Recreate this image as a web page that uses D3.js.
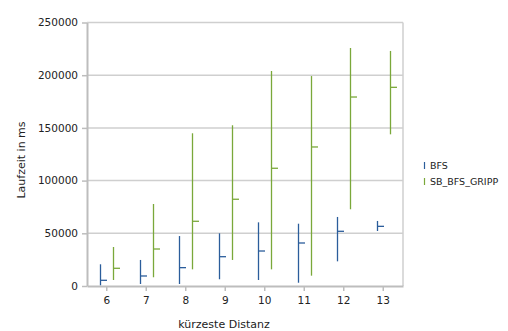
<!DOCTYPE html>
<html>
<head>
<meta charset="utf-8">
<script src="https://cdn.jsdelivr.net/npm/d3@7"></script>
<style>
  body { margin: 0; background: #fff; }
  text { font-family: "DejaVu Sans", sans-serif; fill: #222; }
</style>
</head>
<body>
<div id="chart"></div>
<script>
// Daten
const distanzen = [6, 7, 8, 9, 10, 11, 12, 13];
const bfsHoch   = [20600, 24700, 47400, 50000, 60400, 59100, 65500, 61700];
const bfsTief   = [700, 1900, 1900, 6400, 5700, 3100, 23400, 52200];
const bfsWert   = [5400, 9500, 17400, 27800, 33200, 40800, 51900, 56600];
const grippHoch = [37000, 77800, 144900, 152500, 204000, 199200, 225800, 223000];
const grippTief = [5700, 8300, 15800, 24700, 15800, 9800, 72800, 143900];
const grippWert = [16800, 35100, 61400, 82300, 111700, 131900, 179300, 188500];
const yTicks = [0, 50000, 100000, 150000, 200000, 250000];
const serien = ["BFS", "SB_BFS_GRIPP"];

const width = 508, height = 331;
const m = { left: 87, right: 403, top: 22.5, bottom: 286 };
const farben = { "BFS": "#2b5d9b", "SB_BFS_GRIPP": "#7aa83a" };

const svg = d3.select("#chart").append("svg")
    .attr("width", width)
    .attr("height", height);

const x = d3.scaleBand().domain(distanzen).range([m.left, m.right]).padding(0);
const y = d3.scaleLinear().domain([0, 250000]).range([m.bottom, m.top]);

// Gitterlinien (inkl. oberer Rahmen)
svg.append("g").selectAll("line")
    .data(yTicks.slice(1))
    .enter().append("line")
    .attr("x1", m.left).attr("x2", m.right)
    .attr("y1", d => y(d)).attr("y2", d => y(d))
    .style("stroke", "#cfcfcf")
    .style("stroke-width", 1.5);

// Rahmen rechts
svg.append("line")
    .attr("x1", m.right).attr("x2", m.right)
    .attr("y1", m.top).attr("y2", m.bottom)
    .style("stroke", "#cfcfcf").style("stroke-width", 1.5);

// y-Achse
const yAxis = svg.append("g")
    .attr("transform", `translate(${m.left},0)`)
    .call(d3.axisLeft(y).tickValues(yTicks).tickSize(5).tickSizeOuter(0).tickPadding(4).tickFormat(d3.format("d")));
yAxis.select(".domain").style("stroke", "#bdbdbd").style("stroke-width", 2);
yAxis.selectAll(".tick line").style("stroke", "#bdbdbd").style("stroke-width", 1.5);
yAxis.selectAll("text").style("font-size", "10.5px").style("font-family", "DejaVu Sans").style("fill", "#222");

// x-Achse
const xAxis = svg.append("g")
    .attr("transform", `translate(0,${m.bottom})`)
    .call(d3.axisBottom(x).tickSize(5).tickSizeOuter(0).tickPadding(6));
xAxis.select(".domain").style("stroke", "#bdbdbd").style("stroke-width", 2);
xAxis.selectAll(".tick line").style("stroke", "#bdbdbd").style("stroke-width", 1.5);
xAxis.selectAll("text").style("font-size", "10.5px").style("font-family", "DejaVu Sans").style("fill", "#222");

// Datenreihen
const daten = [
    distanzen.map((d, i) => ({ serie: "BFS", d, hoch: bfsHoch[i], tief: bfsTief[i], wert: bfsWert[i] })),
    distanzen.map((d, i) => ({ serie: "SB_BFS_GRIPP", d, hoch: grippHoch[i], tief: grippTief[i], wert: grippWert[i] }))
];
const versatz = d3.scaleBand().domain(serien).range([-13.4, 13.4]).padding(0);
const px = p => Math.round(x(p.d) + x.bandwidth() / 2 + versatz(p.serie) + versatz.bandwidth() / 2) + 0.5;

daten.forEach(reihe => {
    const g = svg.append("g");
    g.selectAll(".hl").data(reihe).enter().append("line")
        .attr("x1", px).attr("x2", px)
        .attr("y1", p => y(p.hoch)).attr("y2", p => y(p.tief))
        .style("stroke", p => farben[p.serie]).style("stroke-width", 1.3);
    g.selectAll(".wert").data(reihe).enter().append("line")
        .attr("x1", px).attr("x2", p => px(p) + 6.5)
        .attr("y1", p => y(p.wert)).attr("y2", p => y(p.wert))
        .style("stroke", p => farben[p.serie]).style("stroke-width", 1.3);
});

// Achsentitel
svg.append("text")
    .attr("transform", "translate(25,160) rotate(-90)")
    .attr("text-anchor", "middle")
    .style("font-size", "11px")
    .text("Laufzeit in ms");

svg.append("text")
    .attr("x", 224).attr("y", 328)
    .attr("text-anchor", "middle")
    .style("font-size", "11px")
    .text("kürzeste Distanz");

// Legende
const legende = svg.append("g").attr("transform", "translate(424,166)");
serien.forEach((s, i) => {
    const zeile = legende.append("g").attr("transform", `translate(0,${i * 16})`);
    zeile.append("line")
        .attr("x1", 0.5).attr("x2", 0.5).attr("y1", -4).attr("y2", 3)
        .style("stroke", farben[s]).style("stroke-width", 1.2);
    zeile.append("text")
        .attr("x", 6).attr("y", 0)
        .attr("dominant-baseline", "middle")
        .style("font-size", "9.5px")
        .text(s);
});
</script>
</body>
</html>
